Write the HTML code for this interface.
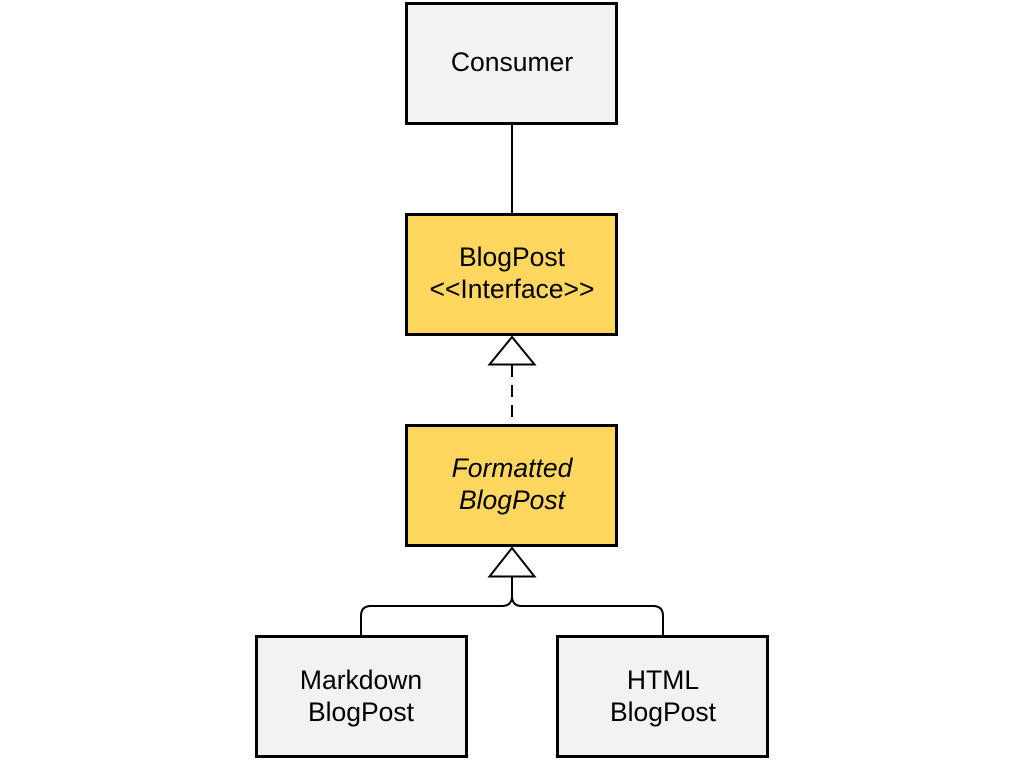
<!DOCTYPE html>
<html><head><style>
body{margin:0;background:#fff;width:1024px;height:760px;overflow:hidden}
</style></head><body>
<svg width="1024" height="760" xmlns="http://www.w3.org/2000/svg" font-family="Liberation Sans, Arial, sans-serif" font-size="26.5" text-anchor="middle">
<line x1="512" y1="124" x2="512" y2="214" stroke="#000" stroke-width="2"/>
<line x1="512" y1="365" x2="512" y2="425" stroke="#000" stroke-width="2" stroke-dasharray="12,8"/>
<path d="M512 577 V596 Q512 606 502 606 H371 Q361 606 361 616 V637 M512 596 Q512 606 522 606 H653 Q663 606 663 616 V637" fill="none" stroke="#000" stroke-width="2"/>
<rect x="406.5" y="3.5" width="210" height="120" fill="#f2f2f2" stroke="#000" stroke-width="3"/>
<rect x="406.5" y="214.5" width="210" height="120" fill="#ffd75e" stroke="#000" stroke-width="3"/>
<rect x="406.5" y="425.5" width="210" height="120" fill="#ffd75e" stroke="#000" stroke-width="3"/>
<rect x="256.5" y="636.5" width="210" height="120" fill="#f2f2f2" stroke="#000" stroke-width="3"/>
<rect x="557.5" y="636.5" width="210" height="120" fill="#f2f2f2" stroke="#000" stroke-width="3"/>
<polygon points="512,337 489.5,364.5 534.5,364.5" fill="#fff" stroke="#000" stroke-width="2"/>
<polygon points="512,548 489.5,576.5 534.5,576.5" fill="#fff" stroke="#000" stroke-width="2"/>
<text x="512" y="71">Consumer</text>
<text x="512" y="266">BlogPost</text>
<text x="512" y="298">&lt;&lt;Interface&gt;&gt;</text>
<text x="512" y="477" font-style="italic">Formatted</text>
<text x="512" y="509" font-style="italic">BlogPost</text>
<text x="361" y="689">Markdown</text>
<text x="361" y="721">BlogPost</text>
<text x="663" y="689">HTML</text>
<text x="663" y="721">BlogPost</text>
</svg>
</body></html>
